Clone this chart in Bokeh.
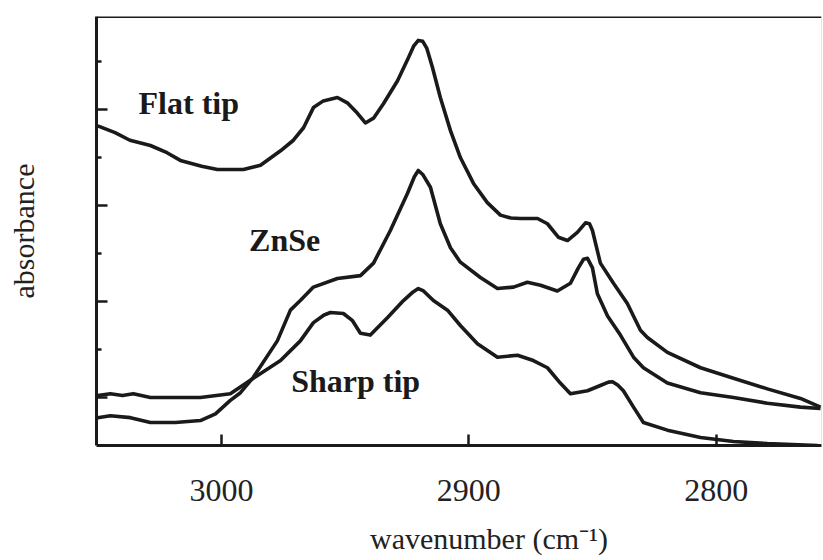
from bokeh.plotting import figure
from bokeh.models import Range1d, FixedTicker, Span, ColumnDataSource
from bokeh.core.properties import value
from bokeh.embed import file_html
from bokeh.resources import INLINE

# ---- data (wavenumber in cm-1, absorbance in arbitrary units) ----
flat_wn = [3050, 3043, 3037, 3028.7, 3022, 3016.6, 3008, 3001.6, 2991.1, 2984.2, 2976.1, 2970.9, 2966.8,
           2962.8, 2958.8, 2953.1, 2949.1, 2945.0, 2941.8, 2938.5, 2934.5, 2928.8, 2924.4,
           2922.3, 2920.4, 2918.6, 2917.0, 2914.7, 2911.5, 2907.4, 2903.4, 2898.1, 2892.5, 2887.2, 2883, 2879.1,
           2872.2, 2868.2, 2863.8, 2860.1, 2856.1, 2852.8, 2851.2, 2850.0, 2846.8, 2841.5, 2835.9,
           2830.6, 2827.8, 2819.7, 2806.3, 2793.0, 2779.3, 2765.9, 2757.8]
flat_abs = [3.33, 3.26, 3.18, 3.125, 3.05, 2.97, 2.91, 2.875, 2.875, 2.92, 3.07, 3.18, 3.31,
            3.52, 3.59, 3.625, 3.57, 3.46, 3.36, 3.41, 3.56, 3.80, 4.04,
            4.16, 4.22, 4.21, 4.14, 3.94, 3.625, 3.28, 3.00, 2.73, 2.53, 2.40, 2.37, 2.365,
            2.365, 2.31, 2.17, 2.135, 2.22, 2.32, 2.31, 2.24, 1.90, 1.69, 1.48,
            1.20, 1.125, 0.97, 0.81, 0.70, 0.59, 0.49, 0.40]

znse_wn = [3050, 3044.9, 3036.8, 3028.7, 3018.6, 3008.5, 3002.4, 2996.4, 2992.3, 2987.1,
           2977.4, 2972.1, 2968.1, 2962.8, 2953.1, 2943.8, 2938.5, 2931.7, 2924.8, 2922.0, 2920.4,
           2918.5, 2915.5, 2911.5, 2907.4, 2903.4, 2895.3, 2888.4, 2881.9, 2876.3, 2871.0, 2864.2,
           2858.9, 2855.7, 2853.6, 2852.0, 2850.0, 2848.0, 2843.9, 2838.7, 2833.4, 2829.4, 2819.7,
           2806.3, 2793.0, 2779.3, 2765.9, 2757.8]
znse_abs = [0.29, 0.31, 0.29, 0.24, 0.24, 0.26, 0.33, 0.47, 0.55, 0.71,
            1.09, 1.41, 1.51, 1.65, 1.74, 1.77, 1.90, 2.24, 2.625, 2.80, 2.865,
            2.82, 2.69, 2.31, 2.06, 1.91, 1.75, 1.635, 1.65, 1.70, 1.67, 1.61,
            1.69, 1.85, 1.94, 1.95, 1.85, 1.58, 1.35, 1.15, 0.92, 0.81, 0.65,
            0.55, 0.50, 0.44, 0.40, 0.385]

sharp_wn = [3050, 3044.9, 3040, 3035.6, 3028.7, 3008.5, 2996.4, 2987.1, 2976.1, 2968.1,
            2962.8, 2958.5, 2955.9, 2950.7, 2947, 2943.8, 2939.8, 2932.9, 2926.4, 2922.5, 2920.4, 2918.3, 2914.3, 2908.6,
            2903.4, 2896.5, 2888.4, 2880.3, 2873.9, 2868.2, 2863.0, 2858.9, 2852.0, 2846.8,
            2843.5, 2841.9, 2839.8, 2837.5, 2833.4, 2829.4, 2819.7, 2806.3, 2793.0, 2779.3, 2759.0]
sharp_abs = [0.52, 0.54, 0.52, 0.54, 0.50, 0.50, 0.54, 0.70, 0.885, 1.09,
             1.28, 1.36, 1.385, 1.375, 1.30, 1.17, 1.15, 1.33, 1.51, 1.60, 1.635, 1.61, 1.51, 1.41,
             1.25, 1.06, 0.92, 0.94, 0.885, 0.81, 0.65, 0.54, 0.57, 0.625,
             0.66, 0.665, 0.63, 0.57, 0.40, 0.24, 0.16, 0.083, 0.042, 0.02, 0.0]

series_names = ["Flat tip", "ZnSe", "Sharp tip"]
x_ticks = [3000, 2900, 2800]
y_major_ticks = [0.5, 1.5, 2.5, 3.5]
y_minor_ticks = [1.0, 2.0, 3.0, 4.0]

X_LEFT, X_RIGHT = 3050.5, 2757.4
Y_BOTTOM, Y_TOP = 0.0, 4.469

SERIF = "Liberation Serif"
INK = "#1a1a1a"
TXT = "#222222"

p = figure(width=823, height=560, output_backend="svg", toolbar_location=None,
           x_range=Range1d(X_LEFT, X_RIGHT), y_range=Range1d(Y_BOTTOM, Y_TOP),
           min_border_left=96, min_border_right=2, min_border_top=16, min_border_bottom=115,
           x_axis_label="\u2007\u2007\u2007\u2007wavenumber (cm\u207b\u00b9)",
           y_axis_label="absorbance")
p.background_fill_color = "white"
p.border_fill_color = "white"
p.outline_line_color = None
p.grid.visible = False

for wn, ab in [(flat_wn, flat_abs), (znse_wn, znse_abs), (sharp_wn, sharp_abs)]:
    p.line(wn, ab, line_color=INK, line_width=3.6, line_join="round")

# axes styling
xa = p.xaxis[0]
xa.ticker = FixedTicker(ticks=x_ticks)
xa.axis_line_width = 3
xa.axis_line_color = INK
xa.major_tick_in = 11
xa.major_tick_out = 0
xa.major_tick_line_width = 2.5
xa.major_tick_line_color = INK
xa.minor_tick_line_color = None
xa.major_label_text_font = SERIF
xa.major_label_text_font_size = "32px"
xa.major_label_text_color = TXT
xa.major_label_standoff = 34
xa.axis_label_text_font = SERIF
xa.axis_label_text_font_style = "normal"
xa.axis_label_text_font_size = "30px"
xa.axis_label_text_color = TXT
xa.axis_label_standoff = 18

ya = p.yaxis[0]
ya.ticker = FixedTicker(ticks=y_major_ticks, minor_ticks=y_minor_ticks)
ya.axis_line_width = 3
ya.axis_line_color = INK
ya.major_tick_in = 11
ya.major_tick_out = 0
ya.minor_tick_in = 5
ya.minor_tick_out = 0
ya.major_tick_line_width = 2.5
ya.minor_tick_line_width = 2.5
ya.major_tick_line_color = INK
ya.minor_tick_line_color = INK
ya.major_label_text_font_size = "10px"
ya.major_label_text_color = None
ya.major_label_standoff = 0
ya.axis_label_text_font = SERIF
ya.axis_label_text_font_style = "normal"
ya.axis_label_text_font_size = "30px"
ya.axis_label_text_color = TXT
ya.axis_label_standoff = 57

# top border and faint right border
p.add_layout(Span(location=Y_TOP, dimension="width", line_color=INK, line_width=3))
p.add_layout(Span(location=X_RIGHT, dimension="height", line_color="#cccccc", line_width=1))

# curve labels
label_x = [3033.5, 2988.8, 2971.8]
label_y = [3.57, 2.14, 0.67]
src = ColumnDataSource(dict(x=label_x, y=label_y, t=series_names))
p.text(x="x", y="y", text="t", source=src, text_font=value(SERIF), text_font_style="bold",
       text_font_size="32px", text_color=INK, text_align="left", text_baseline="alphabetic")

open("out.html", "w").write(file_html(p, INLINE))
